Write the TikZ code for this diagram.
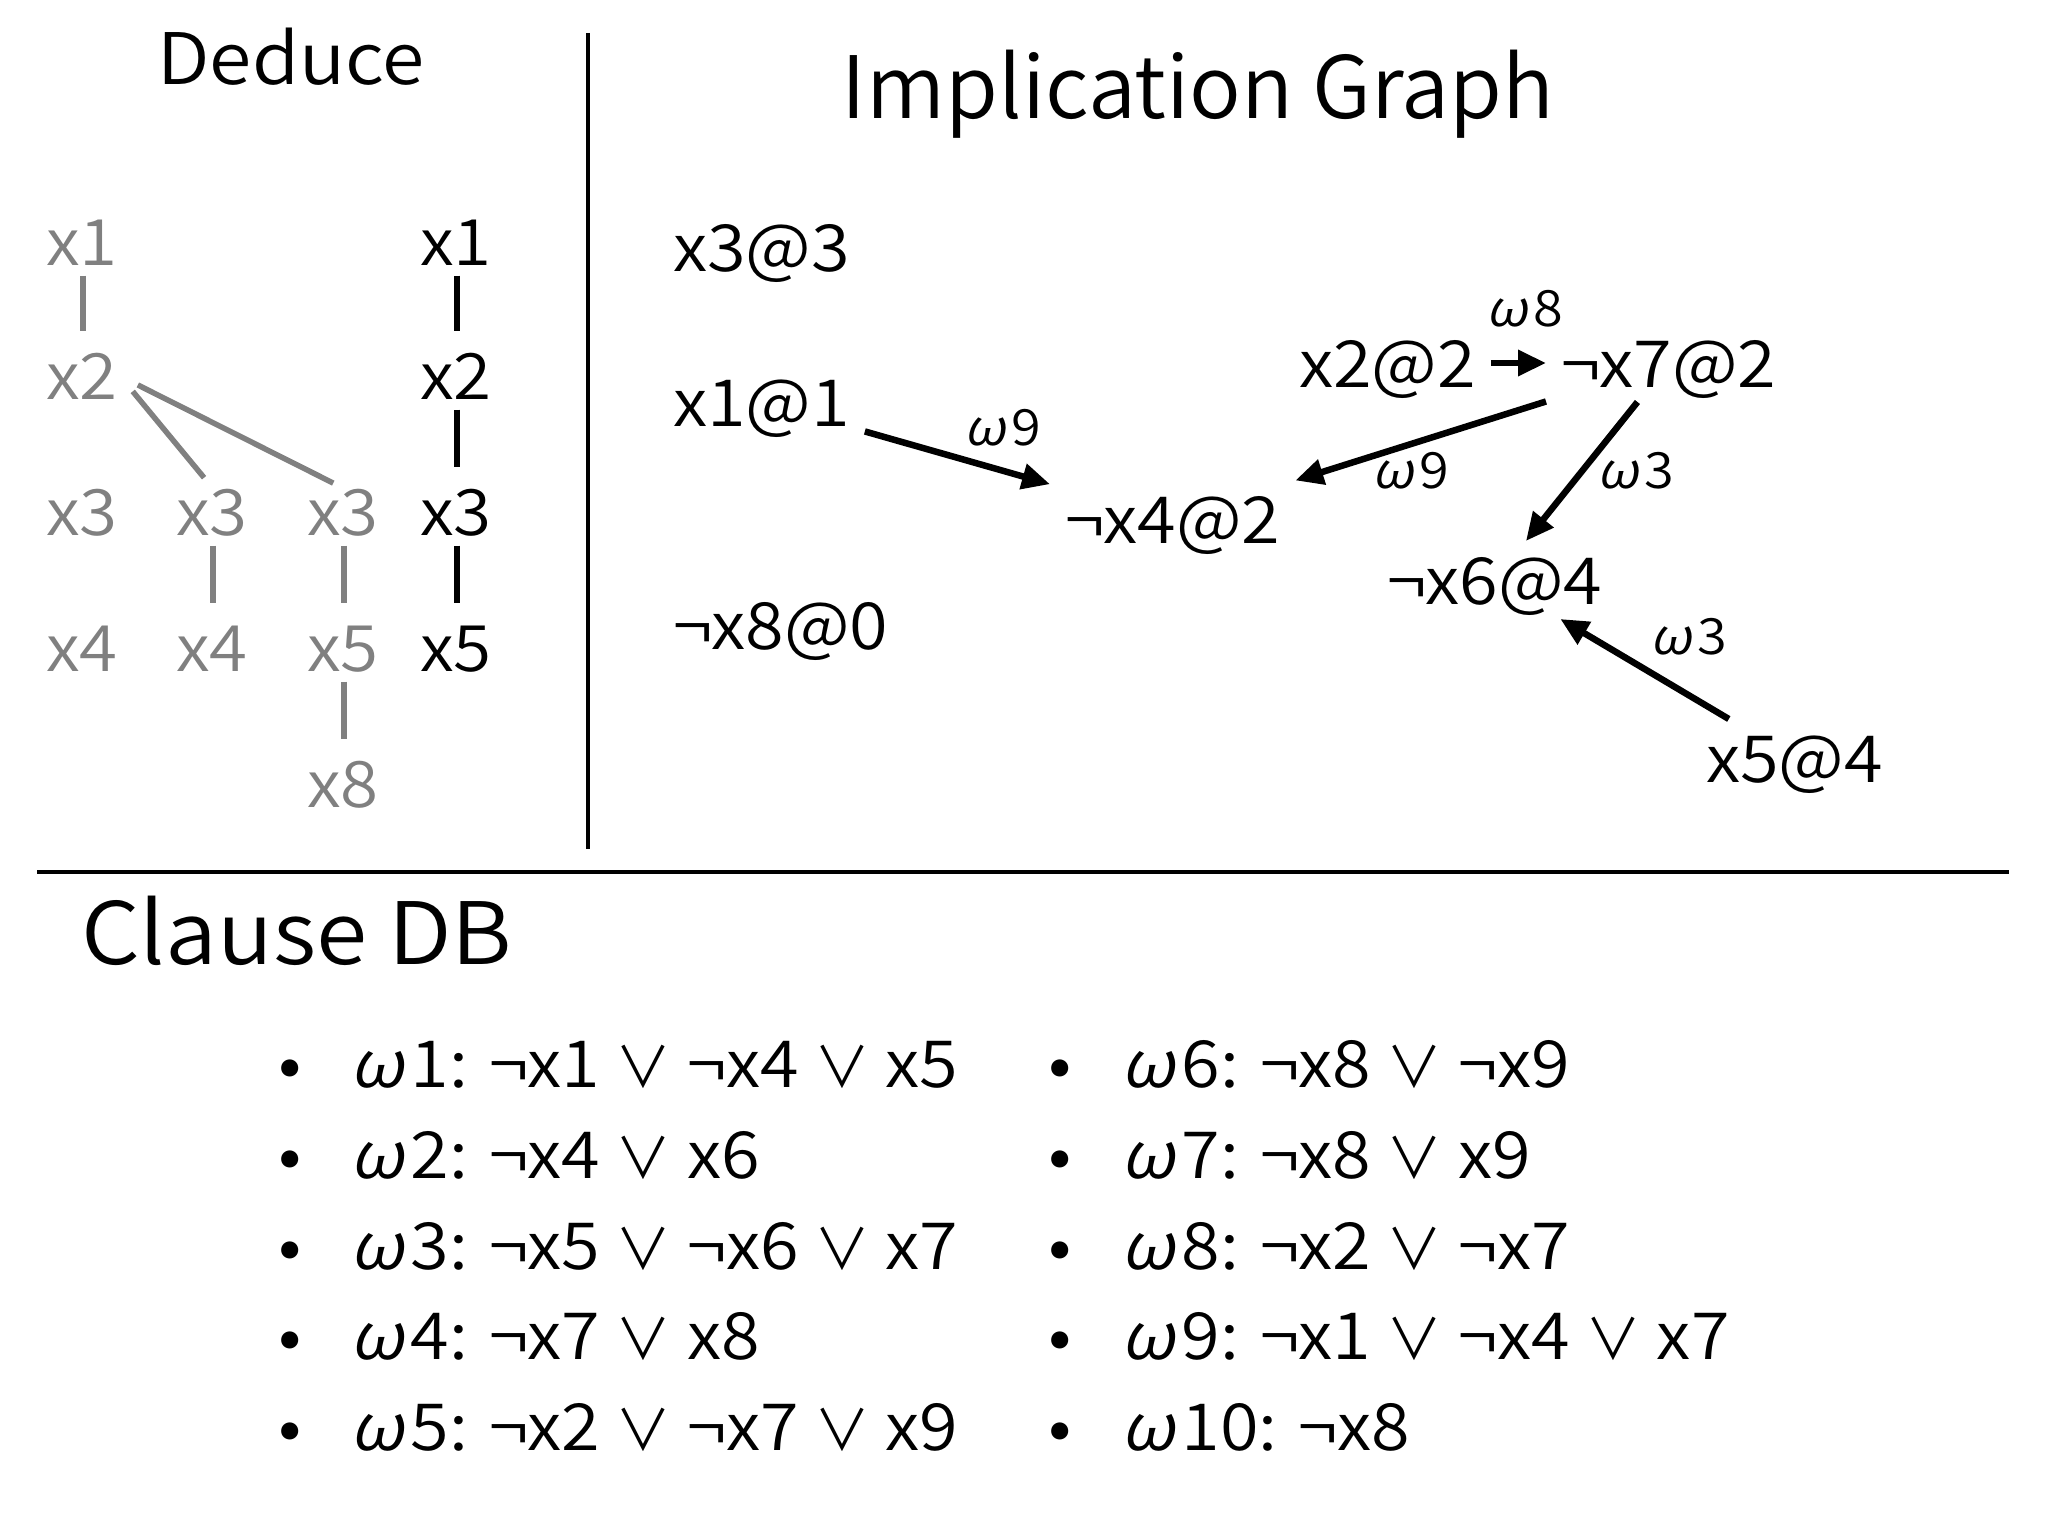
\documentclass[tikz,border=0pt]{standalone}
\usepackage{fontspec}
\usepackage{graphicx}
\setmainfont{Noto Sans CJK JP DemiLight}[FakeStretch=1.08]
\newfontfamily\plainf{Noto Sans CJK JP DemiLight}
\newfontfamily\omf{Noto Sans CJK JP DemiLight}[FakeSlant=0.2, FakeStretch=1.08]
\usetikzlibrary{arrows.meta,calc}
\newcommand{\om}[1]{{\omf ω}\kern0.1em#1}
\newcommand{\orr}{\scalebox{0.86}{\plainf ∨}}
\tikzset{
  every node/.style={inner sep=0pt, outer sep=0pt},
  ttl/.style={font=\fontsize{71}{71}\selectfont, text height=52pt, text depth=0pt},
  big/.style={font=\fontsize{86}{86}\selectfont, text height=63pt, text depth=0pt},
  gt/.style={font=\fontsize{64}{64}\selectfont, text height=47pt, text depth=0pt, text width=74pt, align=left, text=gray},
  bt/.style={gt, text=black},
  gn/.style={font=\fontsize{65}{65}\selectfont, text height=48pt, text depth=0pt, inner sep=15pt, anchor=west},
  el/.style={font=\fontsize{50}{50}\selectfont, text height=37pt, text depth=0pt},
  cl/.style={font=\fontsize{65}{65}\selectfont, text height=48pt, text depth=0pt, anchor=west},
  bul/.style={font=\fontsize{65}{65}\selectfont, anchor=base},
  arr/.style={line width=6.5pt, -{Triangle[length=28pt,width=25pt]}},
  gl/.style={line width=5.5pt, gray},
  bl/.style={line width=6.5pt, black},
  vl/.style={shorten <=10pt, shorten >=22pt},
  rule/.style={line width=4.5pt, black},
}
\begin{document}
\begin{tikzpicture}[x=1pt, y=-1pt]
\useasboundingbox (0,0) rectangle (2048,1536);
% titles
\node[ttl] (deduce) at (291,59) {Deduce};
\node[big] (igraph) at (1198,87) {\plainf Implication Graph};
\node[big, anchor=west] (cdb) at (81,933) {Clause DB};
% rules
\coordinate (vtop) at (588,33);
\coordinate (vbot) at (588,849);
\coordinate (hl) at (37,872);
\coordinate (hr) at (2009,872);
\draw[rule] (vtop) -- (vbot);
\draw[rule] (hl) -- (hr);
% deduce tree (gray)
\node[gt] (g1) at (83,242) {x1};
\node[gt] (g2) at (83,376) {x2};
\node[gt] (g3a) at (83,512) {x3};
\node[gt] (g3b) at (213,512) {x3};
\node[gt] (g3c) at (344,512) {x3};
\node[gt] (g4a) at (83,648) {x4};
\node[gt] (g4b) at (213,648) {x4};
\node[gt] (g5c) at (344,648) {x5};
\node[gt] (g8c) at (344,784) {x8};
\draw[gl, vl] (g1) -- (g2);
\draw[gl, vl] (g3b) -- (g4b);
\draw[gl, vl] (g3c) -- (g5c);
\draw[gl, vl] (g5c) -- (g8c);
\draw[gl, shorten <=20pt, shorten >=14pt] (g2.east) -- (g3b.north);
\draw[gl, shorten <=20pt, shorten >=12pt] (g2.east) -- (g3c.north);
% deduce (black)
\node[bt] (b1) at (457,242) {x1};
\node[bt] (b2) at (457,376) {x2};
\node[bt] (b3) at (457,512) {x3};
\node[bt] (b5) at (457,648) {x5};
\draw[bl, vl] (b1) -- (b2);
\draw[bl, vl] (b2) -- (b3);
\draw[bl, vl] (b3) -- (b5);
% implication graph
\node[gn] (n3) at (658,247) {x3@3};
\node[gn] (n1) at (658,402) {x1@1};
\node[gn] (n8) at (658,625) {¬x8@0};
\node[gn] (n4) at (1050,519) {¬x4@2};
\node[gn] (n2) at (1284,363) {x2@2};
\node[gn] (n7) at (1546,363) {¬x7@2};
\node[gn] (n6) at (1372,580) {¬x6@4};
\node[gn] (n5) at (1691,758) {x5@4};
\draw[arr] (n1) -- (n4);
\draw[arr] (n2) -- (n7);
\draw[arr] (n7) -- (n4);
\draw[arr] (n7) -- (n6);
\draw[arr] (n5) -- (n6);
\node[el] (e19) at (1003,427) {\om{9}};
\node[el] (e28) at (1525,308) {\om{8}};
\node[el] (e79) at (1411,470) {\om{9}};
\node[el] (e73) at (1636,470) {\om{3}};
\node[el] (e53) at (1689,636) {\om{3}};
% clause DB
\node[bul] (p1) at (290,1087) {•};
\node[bul] (p2) at (290,1178) {•};
\node[bul] (p3) at (290,1269) {•};
\node[bul] (p4) at (290,1359) {•};
\node[bul] (p5) at (290,1450) {•};
\node[cl] (c1) at (350,1063) {\om{1}: ¬x1 \orr{} ¬x4 \orr{} x5};
\node[cl] (c2) at (350,1154) {\om{2}: ¬x4 \orr{} x6};
\node[cl] (c3) at (350,1245) {\om{3}: ¬x5 \orr{} ¬x6 \orr{} x7};
\node[cl] (c4) at (350,1335) {\om{4}: ¬x7 \orr{} x8};
\node[cl] (c5) at (350,1426) {\om{5}: ¬x2 \orr{} ¬x7 \orr{} x9};
\node[bul] (p6) at (1060,1087) {•};
\node[bul] (p7) at (1060,1178) {•};
\node[bul] (p8) at (1060,1269) {•};
\node[bul] (p9) at (1060,1359) {•};
\node[bul] (p10) at (1060,1450) {•};
\node[cl] (c6) at (1121,1063) {\om{6}: ¬x8 \orr{} ¬x9};
\node[cl] (c7) at (1121,1154) {\om{7}: ¬x8 \orr{} x9};
\node[cl] (c8) at (1121,1245) {\om{8}: ¬x2 \orr{} ¬x7};
\node[cl] (c9) at (1121,1335) {\om{9}: ¬x1 \orr{} ¬x4 \orr{} x7};
\node[cl] (c10) at (1121,1426) {\om{10}: ¬x8};
\end{tikzpicture}
\end{document}
